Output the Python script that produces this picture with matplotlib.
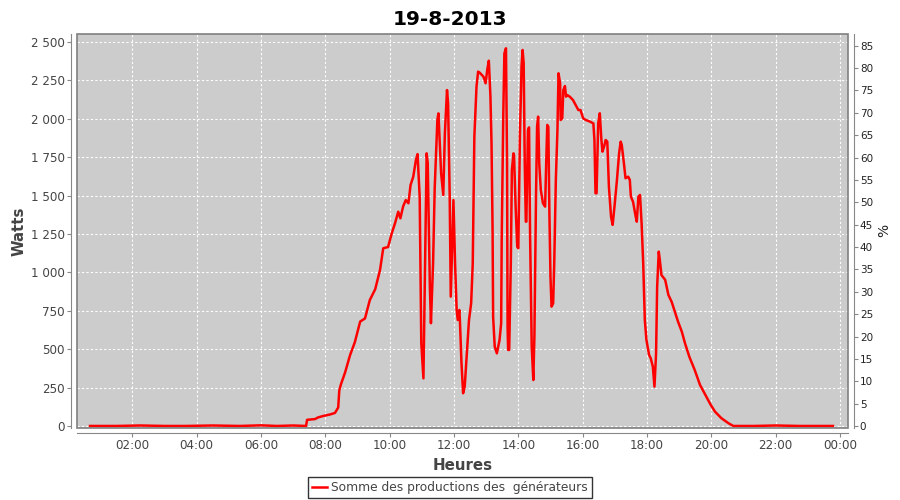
import matplotlib
matplotlib.use("Agg")
import matplotlib.pyplot as plt
from matplotlib.ticker import FuncFormatter, MultipleLocator
from matplotlib.patches import Rectangle

# Production readings (time of day, watts)
times = ["00:41", "01:30", "02:15", "03:00", "03:40", "04:30", "05:20", "06:00", "06:30",
         "07:00", "07:24", "07:26", "07:41", "07:46", "07:56", "08:09", "08:18", "08:24",
         "08:26", "08:29", "08:37", "08:46", "08:55", "09:05", "09:14", "09:23", "09:33",
         "09:42", "09:48", "09:57", "10:04", "10:10", "10:16", "10:20", "10:25", "10:30",
         "10:35", "10:39", "10:44", "10:49", "10:52", "10:56", "10:59", "11:03", "11:07",
         "11:09", "11:11", "11:15", "11:17", "11:21", "11:24", "11:29", "11:31", "11:36",
         "11:40", "11:43", "11:47", "11:49", "11:52", "11:54", "11:59", "12:02", "12:05",
         "12:07", "12:10", "12:11", "12:14", "12:17", "12:20", "12:24", "12:28", "12:32",
         "12:35", "12:38", "12:42", "12:45", "12:48", "12:55", "12:59", "13:02", "13:05",
         "13:08", "13:10", "13:12", "13:13", "13:16", "13:20", "13:25", "13:28", "13:29",
         "13:32", "13:34", "13:37", "13:39", "13:40", "13:41", "13:43", "13:46", "13:48",
         "13:51", "13:52", "13:55", "13:58", "14:00", "14:03", "14:06", "14:08", "14:10",
         "14:12", "14:14", "14:15", "14:18", "14:20", "14:22", "14:25", "14:28", "14:30",
         "14:33", "14:35", "14:37", "14:39", "14:42", "14:46", "14:50", "14:52", "14:54",
         "14:56", "14:58", "15:00", "15:02", "15:05", "15:07", "15:10", "15:13", "15:15",
         "15:18", "15:19", "15:22", "15:24", "15:27", "15:29", "15:31", "15:36", "15:42",
         "15:47", "15:52", "15:56", "16:01", "16:06", "16:14", "16:20", "16:22", "16:24",
         "16:26", "16:29", "16:32", "16:35", "16:37", "16:40", "16:43", "16:46", "16:49",
         "16:53", "16:56", "17:00", "17:04", "17:08", "17:11", "17:13", "17:17", "17:20",
         "17:25", "17:28", "17:30", "17:34", "17:39", "17:41", "17:44", "17:47", "17:50",
         "17:53", "17:56", "17:59", "18:04", "18:07", "18:11", "18:14", "18:17", "18:19",
         "18:22", "18:24", "18:27", "18:34", "18:40", "18:46", "18:52", "18:58", "19:05",
         "19:11", "19:19", "19:29", "19:39", "19:49", "19:59", "20:07", "20:19", "20:32",
         "20:41", "21:20", "22:00", "22:45", "23:20", "23:47"]
watts = [0, 0, 3, 0, 0, 3, 0, 4, 0,
         3, 0, 40, 45, 55, 65, 75, 85, 120,
         230, 270, 350, 460, 545, 680, 700, 820, 890,
         1015, 1157, 1165, 1255, 1320, 1395, 1352, 1428, 1471,
         1450, 1569, 1623, 1732, 1770, 1493, 540, 310, 1276,
         1775, 1712, 907, 669, 1059, 1547, 1992, 2035, 1645,
         1504, 1905, 2187, 2101, 1493, 842, 1471, 1059, 755,
         690, 755, 690, 408, 213, 256, 473, 690, 799,
         1059, 1883, 2209, 2307, 2300, 2274, 2231, 2318, 2378,
         2144, 1840, 1276, 712, 516, 473, 560, 669, 1211,
         2036, 2426, 2459, 1710, 646, 495, 495, 1059, 1667,
         1775, 1764, 1428, 1167, 1157, 1883, 2339, 2448, 2361,
         1710, 1330, 1330, 1927, 1944, 1232, 516, 299, 581,
         1493, 1948, 2014, 1710, 1536, 1450, 1428, 1710, 1960,
         1948, 1385, 972, 777, 799, 1059, 1602, 1927, 2296,
         2231, 1992, 2003, 2187, 2213, 2144, 2155, 2144, 2122,
         2090, 2057, 2057, 2003, 1992, 1981, 1970, 1862, 1515,
         1515, 1970, 2036, 1862, 1786, 1819, 1862, 1851, 1558,
         1363, 1309, 1450, 1602, 1775, 1851, 1829, 1710, 1613,
         1623, 1602, 1493, 1460, 1363, 1330, 1493, 1504, 1319,
         1059, 690, 560, 462, 441, 386, 256, 473, 907,
         1135, 1081, 983, 951, 853, 809, 744, 679, 614,
         538, 451, 365, 267, 202, 137, 93, 50, 18,
         0, 0, 3, 0, 0, 0]

x_ticks = [2, 4, 6, 8, 10, 12, 14, 16, 18, 20, 22, 24]

hours = [int(t[:2]) + int(t[3:]) / 60 for t in times]

fig = plt.figure(figsize=(9, 5), dpi=100)
ax = fig.add_axes([0.0856, 0.145, 0.8566, 0.787])
ax.set_facecolor("#cccccc")

ax.plot(hours, watts, color="#ff0000", linewidth=1.8, label="Somme des productions des  générateurs")

ax.set_xlim(0.28, 24.25)
ax.set_ylim(-10, 2552)
ax.set_xticks(x_ticks)
ax.xaxis.set_major_formatter(FuncFormatter(lambda v, p: "%02d:00" % (int(round(v)) % 24)))
ax.yaxis.set_major_locator(MultipleLocator(250))
ax.yaxis.set_major_formatter(FuncFormatter(lambda v, p: "{:,}".format(int(v)).replace(",", " ")))

ax.grid(True, color="white", linestyle=(0, (2, 2)), linewidth=0.8)
ax.set_axisbelow(True)

for side in ["top", "right"]:
    ax.spines[side].set_visible(False)
for side in ["left", "bottom"]:
    ax.spines[side].set_position(("outward", 4))
    ax.spines[side].set_color("#888888")
ax.add_patch(Rectangle((0, 0), 1, 1, transform=ax.transAxes, fill=False,
                       edgecolor="#808080", linewidth=1.2, clip_on=False, zorder=5))

ax.tick_params(axis="both", colors="#888888", labelcolor="#444444", labelsize=8.6, length=3)
ax.tick_params(axis="x", pad=1.5)
ax.tick_params(axis="y", pad=2)

ax.set_xlabel("Heures", fontsize=10.8, fontweight="bold", color="#444444", labelpad=4)
ax.set_ylabel("Watts", fontsize=10.8, fontweight="bold", color="#444444", labelpad=3)
fig.suptitle("19-8-2013", fontsize=14.5, fontweight="bold", x=0.5, y=0.98)

ax2 = ax.twinx()
ax2.set_ylim(-0.33, 87.6)
ax2.yaxis.set_major_locator(MultipleLocator(5))
for side in ["top", "left", "bottom"]:
    ax2.spines[side].set_visible(False)
ax2.spines["right"].set_position(("outward", 4))
ax2.spines["right"].set_color("#888888")
ax2.tick_params(axis="y", colors="#888888", labelcolor="#222222", labelsize=7.5, length=3, pad=1.5)
ax2.set_ylabel("%", fontsize=10, color="#222222", labelpad=3)

leg = fig.legend(loc="lower center", bbox_to_anchor=(0.5, 0.0), fontsize=8.8, frameon=True,
                 fancybox=False, handlelength=1.2, handletextpad=0.4, borderpad=0.3,
                 borderaxespad=0.2, labelcolor="#444444")
leg.get_frame().set_edgecolor("black")
leg.get_frame().set_linewidth(1)

fig.savefig("out.png", dpi=100, facecolor="white")
